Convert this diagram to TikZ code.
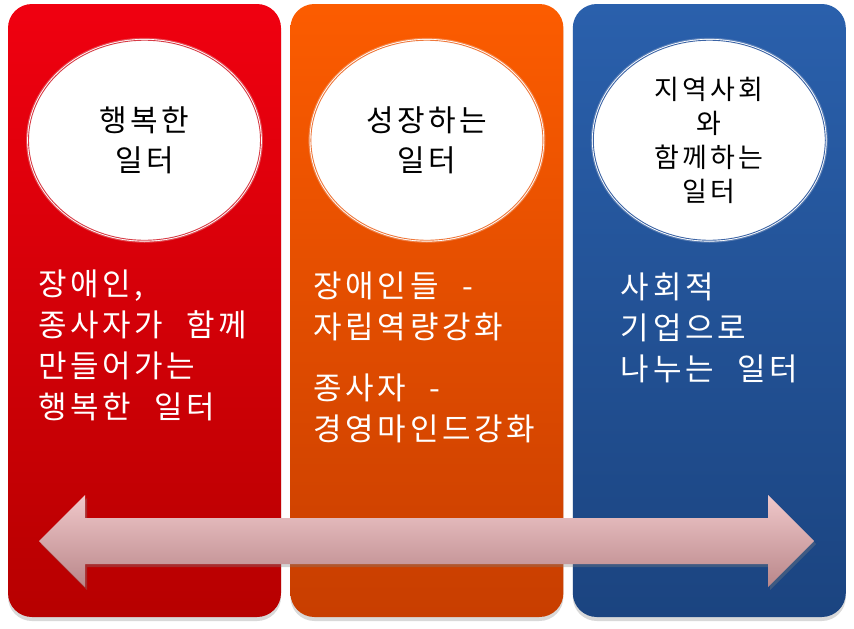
\documentclass[tikz,border=0pt]{standalone}
\usepackage{fontspec}
\newfontfamily\kr[LetterSpace=12,WordSpace=2.2]{Noto Sans CJK KR}
\usetikzlibrary{shapes.geometric,shadows,positioning}

\definecolor{redtop}{RGB}{240,0,16}
\definecolor{redbot}{RGB}{183,0,0}
\definecolor{redgap}{RGB}{215,60,70}
\definecolor{orangetop}{RGB}{252,92,0}
\definecolor{orangebot}{RGB}{200,62,0}
\definecolor{orangegap}{RGB}{238,120,60}
\definecolor{bluetop}{RGB}{42,96,172}
\definecolor{bluebot}{RGB}{27,68,128}
\definecolor{bluegap}{RGB}{60,100,165}
\definecolor{linktop}{RGB}{240,200,202}
\definecolor{linkbot}{RGB}{185,135,138}

\tikzset{
  column/.style={rounded corners=24pt, minimum width=273pt, minimum height=613pt,
    inner sep=0pt, drop shadow={opacity=0.3, shadow xshift=0pt, shadow yshift=-4pt}},
  goal/.style={ellipse, minimum width=232pt, minimum height=200pt, inner sep=0pt,
    fill=white, draw=white, line width=0.9pt, double distance=0.9pt, align=center,
    font=\kr\fontsize{30}{40}\selectfont},
  point/.style={anchor=north west, inner sep=0pt, align=left, text=white,
    font=\kr\fontsize{31}{41}\selectfont}
}

\begin{document}
\begin{tikzpicture}[x=1pt, y=-1pt]
  \useasboundingbox (0,0) rectangle (854,629);
  % three columns
  \node (red) [column, top color=redtop, bottom color=redbot] at (144.5,310.5) {};
  \node (orange) [column, top color=orangetop, bottom color=orangebot, right=9pt of red] {};
  \node (blue) [column, top color=bluetop, bottom color=bluebot, right=9pt of orange] {};
  % goals
  \node (happy) [goal, double=redgap, below=36pt of red.north,
    preaction={draw=redgap!60, line width=5pt, opacity=0.5}] {행복한\\일터};
  \node (grow) [goal, double=orangegap, below=36pt of orange.north,
    preaction={draw=orangegap!60, line width=5pt, opacity=0.5}] {성장하는\\일터};
  \node (local) [goal, double=bluegap, below=36pt of blue.north,
    preaction={draw=bluegap!60, line width=5pt, opacity=0.5},
    font=\kr\fontsize{27}{34}\selectfont] {지역사회\\와\\함께하는\\일터};
  % points
  \node (happytext) [point, below right=266pt and 30pt of red.north west]
    {장애인,\\종사자가 함께\\만들어가는\\행복한 일터};
  \node (growtext) [point, below right=268pt and 23pt of orange.north west]
    {장애인들 -\\자립역량강화\\[20pt]종사자 -\\경영마인드강화};
  \node (localtext) [point, below right=269pt and 48pt of blue.north west]
    {사회적\\기업으로\\나누는 일터};
  % double arrow
  \shade[top color=linktop, bottom color=linkbot,
    drop shadow={opacity=0.35, shadow xshift=2pt, shadow yshift=-3pt}]
    (39,541) -- (85,495) -- (85,518) -- (768,518) -- (768,495) -- (814,541)
    -- (768,587) -- (768,564) -- (85,564) -- (85,587) -- cycle;
\end{tikzpicture}
\end{document}
